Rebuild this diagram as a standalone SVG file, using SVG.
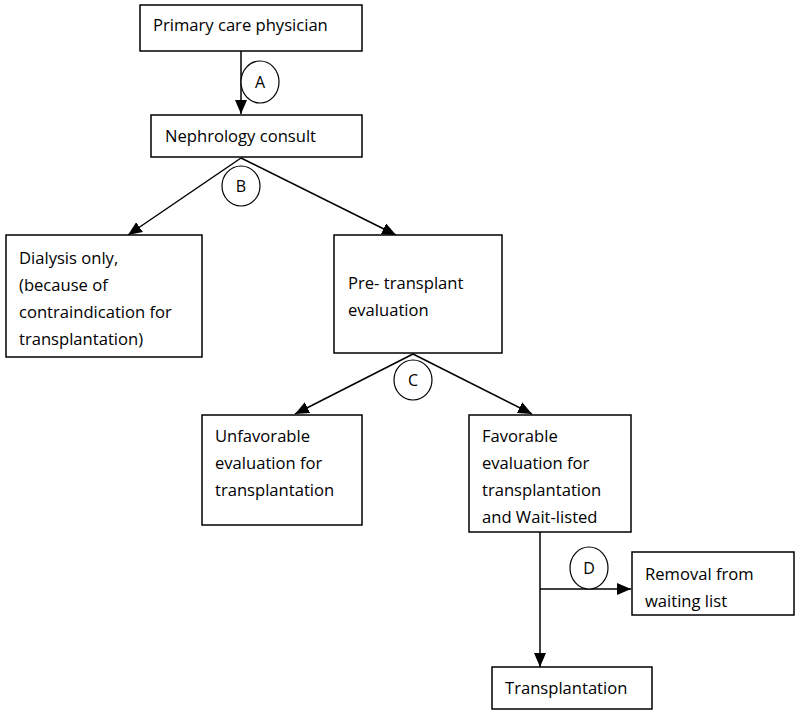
<svg xmlns="http://www.w3.org/2000/svg" width="800" height="715" viewBox="0 0 800 715">
<defs>
<marker id="arr" markerWidth="14" markerHeight="12" refX="14" refY="6" orient="auto" markerUnits="userSpaceOnUse">
<path d="M0,0 L14,6 L0,12 Z" fill="#000"/>
</marker>
<style>
.box{fill:#fff;stroke:#000;stroke-width:1.5}
.t{font-family:"Open Sans","Liberation Sans",Arial,sans-serif;font-size:16.6px;fill:#000}
.c{fill:#fff;stroke:#000;stroke-width:1.2}
.cl{font-family:"Open Sans","Liberation Sans",Arial,sans-serif;font-size:16px;fill:#000;text-anchor:middle}
.ln{stroke:#000;stroke-width:1.5;fill:none}
</style>
</defs>
<rect width="800" height="715" fill="#fff"/>
<g id="connectors">
<line class="ln" x1="241" y1="51" x2="241" y2="114" marker-end="url(#arr)"/>
<line class="ln" x1="241" y1="158" x2="128" y2="235" marker-end="url(#arr)"/>
<line class="ln" x1="241" y1="158" x2="396" y2="235" marker-end="url(#arr)"/>
<line class="ln" x1="413" y1="354" x2="295" y2="414" marker-end="url(#arr)"/>
<line class="ln" x1="413" y1="354" x2="532" y2="414" marker-end="url(#arr)"/>
<line class="ln" x1="540" y1="532" x2="540" y2="667" marker-end="url(#arr)"/>
<line class="ln" x1="540" y1="589" x2="631" y2="589" marker-end="url(#arr)"/>
<g id="labelA"><ellipse class="c" cx="260" cy="82" rx="19" ry="21"/><text class="cl" x="260" y="88">A</text></g>
<g id="labelB"><ellipse class="c" cx="241" cy="186" rx="19" ry="20"/><text class="cl" x="241" y="192">B</text></g>
<g id="labelC"><ellipse class="c" cx="413" cy="380" rx="19" ry="20"/><text class="cl" x="413" y="386">C</text></g>
<g id="labelD"><ellipse class="c" cx="589" cy="568" rx="19" ry="21"/><text class="cl" x="589" y="574">D</text></g>
</g>
<g id="primary"><rect class="box" x="140" y="5" width="222" height="46"/><text class="t" x="153" y="31">Primary care physician</text></g>
<g id="nephrology"><rect class="box" x="151" y="115" width="211" height="42"/><text class="t" x="165" y="142">Nephrology consult</text></g>
<g id="dialysis"><rect class="box" x="6" y="235" width="196" height="122"/>
<text class="t" x="19" y="264">Dialysis only,</text>
<text class="t" x="19" y="291">(because of</text>
<text class="t" x="19" y="318">contraindication for</text>
<text class="t" x="19" y="345">transplantation)</text></g>
<g id="pretransplant"><rect class="box" x="334" y="235" width="168" height="118"/>
<text class="t" x="348" y="289">Pre- transplant</text>
<text class="t" x="348" y="316">evaluation</text></g>
<g id="unfavorable"><rect class="box" x="202" y="415" width="160" height="110"/>
<text class="t" x="215" y="442">Unfavorable</text>
<text class="t" x="215" y="469">evaluation for</text>
<text class="t" x="215" y="496">transplantation</text></g>
<g id="favorable"><rect class="box" x="469" y="415" width="162" height="117"/>
<text class="t" x="482" y="442">Favorable</text>
<text class="t" x="482" y="469">evaluation for</text>
<text class="t" x="482" y="496">transplantation</text>
<text class="t" x="482" y="523">and Wait-listed</text></g>
<g id="removal"><rect class="box" x="632" y="552" width="162" height="63"/>
<text class="t" x="645" y="580">Removal from</text>
<text class="t" x="645" y="607">waiting list</text></g>
<g id="transplantation"><rect class="box" x="492" y="667" width="160" height="42"/>
<text class="t" x="505" y="694">Transplantation</text></g>
</svg>
